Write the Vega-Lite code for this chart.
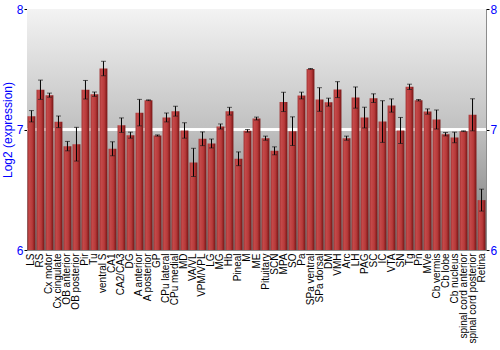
{
  "$schema": "https://vega.github.io/schema/vega-lite/v6.json",
  "width": 459,
  "height": 241,
  "autosize": "none",
  "padding": {"left": 27, "top": 9, "right": 14, "bottom": 100},
  "background": "white",
  "config": {
    "font": "Liberation Sans",
    "view": {"stroke": "#8c8c8c", "strokeWidth": 1}
  },
  "data": {
    "values": [
      {"region": "LS", "value": 7.11, "err": 0.047},
      {"region": "RS", "value": 7.33, "err": 0.08},
      {"region": "Cx motor", "value": 7.285, "err": 0.017},
      {"region": "Cx cingulate", "value": 7.064, "err": 0.048},
      {"region": "OB anterior", "value": 6.862, "err": 0.039},
      {"region": "OB posterior", "value": 6.878, "err": 0.14},
      {"region": "Pir", "value": 7.33, "err": 0.077},
      {"region": "Tu", "value": 7.293, "err": 0.018},
      {"region": "ventral S", "value": 7.506, "err": 0.06},
      {"region": "CA1", "value": 6.84, "err": 0.058},
      {"region": "CA2/CA3", "value": 7.036, "err": 0.06},
      {"region": "DG", "value": 6.953, "err": 0.025},
      {"region": "A anterior", "value": 7.14, "err": 0.11},
      {"region": "A posterior", "value": 7.243, "err": 0.003},
      {"region": "GP", "value": 6.95, "err": 0.005},
      {"region": "CPu lateral", "value": 7.1, "err": 0.037},
      {"region": "CPu medial", "value": 7.152, "err": 0.041},
      {"region": "MD", "value": 6.992, "err": 0.064},
      {"region": "VA/VL", "value": 6.727, "err": 0.117},
      {"region": "VPM/VPL", "value": 6.923, "err": 0.057},
      {"region": "LG", "value": 6.884, "err": 0.037},
      {"region": "MG", "value": 7.025, "err": 0.021},
      {"region": "Hb", "value": 7.152, "err": 0.032},
      {"region": "Pineal", "value": 6.757, "err": 0.057},
      {"region": "M", "value": 6.989, "err": 0.011},
      {"region": "ME", "value": 7.091, "err": 0.012},
      {"region": "Pituitary", "value": 6.928, "err": 0.017},
      {"region": "SCN", "value": 6.823, "err": 0.033},
      {"region": "MPA", "value": 7.229, "err": 0.08},
      {"region": "SO", "value": 6.986, "err": 0.119},
      {"region": "Pa", "value": 7.282, "err": 0.028},
      {"region": "SPa ventral", "value": 7.503, "err": 0.003},
      {"region": "SPa dorsal", "value": 7.249, "err": 0.098},
      {"region": "DM", "value": 7.227, "err": 0.033},
      {"region": "VMH", "value": 7.331, "err": 0.066},
      {"region": "Arc", "value": 6.928, "err": 0.017},
      {"region": "LH", "value": 7.265, "err": 0.088},
      {"region": "PAG", "value": 7.099, "err": 0.086},
      {"region": "SC", "value": 7.26, "err": 0.036},
      {"region": "IC", "value": 7.066, "err": 0.173},
      {"region": "VTA", "value": 7.199, "err": 0.055},
      {"region": "SN", "value": 6.992, "err": 0.108},
      {"region": "Tg", "value": 7.354, "err": 0.022},
      {"region": "Pn", "value": 7.243, "err": 0.006},
      {"region": "MVe", "value": 7.149, "err": 0.022},
      {"region": "Cb vermis", "value": 7.083, "err": 0.079},
      {"region": "Cb lobe", "value": 6.961, "err": 0.014},
      {"region": "Cb nucleus", "value": 6.934, "err": 0.044},
      {"region": "spinal cord anterior", "value": 6.986, "err": 0.003},
      {"region": "spinal cord posterior", "value": 7.122, "err": 0.133},
      {"region": "Retina", "value": 6.414, "err": 0.091}
    ]
  },
  "encoding": {
    "x": {
      "field": "region",
      "type": "nominal",
      "sort": null,
      "scale": {"paddingInner": 0.13, "paddingOuter": 0.06},
      "axis": {
        "title": null,
        "labelAngle": 270,
        "labelFontSize": 10,
        "labelColor": "black",
        "labelPadding": 3,
        "ticks": false,
        "domain": false,
        "labelOverlap": false
      }
    }
  },
  "layer": [
    {
      "mark": {
        "type": "rect",
        "fill": {
          "gradient": "linear",
          "x1": 0, "y1": 0, "x2": 0, "y2": 1,
          "stops": [
            {"offset": 0, "color": "#f3f3f3"},
            {"offset": 0.5, "color": "#c0c0c0"},
            {"offset": 1, "color": "#767676"}
          ]
        }
      },
      "encoding": {
        "x": null,
        "y": {"datum": 8, "type": "quantitative", "scale": {"domain": [6, 8], "nice": false, "zero": false}, "axis": null},
        "y2": {"datum": 6}
      }
    },
    {
      "mark": {"type": "rule", "color": "white", "strokeWidth": 1.5},
      "encoding": {
        "x": null,
        "y": {
          "datum": 7,
          "type": "quantitative",
          "scale": {"domain": [6, 8], "nice": false, "zero": false},
          "axis": {
            "orient": "right",
            "values": [6, 7, 8],
            "labelExpr": "toString(datum.value)",
            "labelOverlap": false,
            "labelFlush": false,
            "title": null,
            "labelColor": "#0000ff",
            "labelFontSize": 12,
            "labelPadding": 1,
            "tickSize": 3,
            "tickColor": "black",
            "domainColor": "#8c8c8c",
            "grid": false
          }
        }
      }
    },
    {
      "mark": {
        "type": "bar",
        "fill": {
          "gradient": "linear",
          "x1": 0, "y1": 0, "x2": 1, "y2": 0,
          "stops": [
            {"offset": 0, "color": "#9e2c2c"},
            {"offset": 0.2, "color": "#c44a4a"},
            {"offset": 0.6, "color": "#b83a3a"},
            {"offset": 1, "color": "#761414"}
          ]
        }
      },
      "encoding": {
        "y": {
          "field": "value",
          "type": "quantitative",
          "scale": {"domain": [6, 8], "nice": false, "zero": false},
          "axis": {
            "orient": "left",
            "values": [6, 7, 8],
            "labelExpr": "toString(datum.value)",
            "labelOverlap": false,
            "labelFlush": false,
            "title": "Log2 (expression)",
            "titleColor": "#0000ff",
            "titleFontSize": 12,
            "titleFontWeight": "normal",
            "titlePadding": 2,
            "labelColor": "#0000ff",
            "labelFontSize": 12,
            "labelPadding": 1,
            "tickSize": 3,
            "tickColor": "black",
            "domainColor": "#8c8c8c",
            "grid": false
          }
        },
        "y2": {"datum": 6}
      }
    },
    {
      "mark": {"type": "errorbar", "color": "black", "ticks": {"size": 5, "color": "#222222"}, "rule": {"strokeWidth": 1}},
      "encoding": {
        "y": {
          "field": "value",
          "type": "quantitative",
          "scale": {"domain": [6, 8], "nice": false, "zero": false},
          "axis": null
        },
        "yError": {"field": "err"}
      }
    }
  ],
  "resolve": {"scale": {"y": "shared"}, "axis": {"y": "independent"}}
}
